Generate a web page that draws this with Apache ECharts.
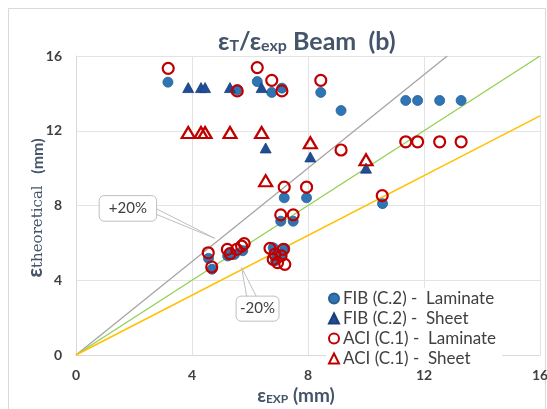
<!DOCTYPE html>
<html>
<head>
<meta charset="utf-8">
<script src="https://cdn.jsdelivr.net/npm/echarts@6/dist/echarts.min.js"></script>
<style>
html,body{margin:0;padding:0;background:#fff;overflow:hidden;width:547px;height:409px;}
#c{width:547px;height:409px;position:absolute;left:0;top:0;}
</style>
</head>
<body>
<div id="c"></div>
<script>
// ---- data ----
var fibLamX = [3.17,5.56,6.25,6.75,7.10,8.44,9.14,11.37,11.78,12.54,13.28,10.57,7.18,7.95,7.06,7.49,4.57,4.69,5.23,5.46,5.75,5.35,6.80,6.92,7.20,7.10,6.88];
var fibLamY = [14.60,14.20,14.63,14.05,14.28,14.05,13.08,13.62,13.62,13.62,13.62,8.10,8.41,8.41,7.16,7.16,5.17,4.59,5.30,5.38,5.58,5.45,5.74,5.30,5.70,5.40,5.05];
var fibShX = [3.87,4.31,4.45,5.31,6.40,6.54,8.08,10.00];
var fibShY = [14.31,14.31,14.31,14.31,14.31,11.08,10.60,10.00];
var aciLamX = [3.18,5.56,6.25,6.75,7.10,8.44,9.14,11.37,11.78,12.54,13.28,10.56,7.18,7.95,7.06,7.49,4.56,4.68,5.22,5.31,5.54,5.71,5.80,6.69,6.86,6.80,7.15,7.07,7.20,6.95];
var aciLamY = [15.34,14.13,15.38,14.70,14.13,14.70,10.97,11.41,11.41,11.41,11.41,8.53,8.98,8.98,7.50,7.50,5.47,4.71,5.65,5.42,5.65,5.83,5.96,5.71,5.39,5.12,5.65,5.30,4.85,4.94];
var aciShX = [3.87,4.31,4.45,5.31,6.40,6.54,8.08,10.00];
var aciShY = [11.91,11.91,11.91,11.91,11.91,9.33,11.36,10.45];
var axisTicks = [0,4,8,12,16];
var refSlopes = {plus20:1.25, equal:1.0, minus20:0.8};
var seriesNames = ['FIB (C.2) -  Laminate','FIB (C.2) -  Sheet','ACI (C.1) -  Laminate','ACI (C.1) -  Sheet'];
var legendIcons = ['circle','triangle','circle','triangle'];
// annotation anchors (data coords)
var plusBox = {x0:0.80, y0:8.53, x1:2.78, y1:7.16, tipX:4.79, tipY:6.24, text:'+20%'};
var minusBox = {x0:5.52, y0:3.15, x1:7.00, y1:1.81, tipX:5.71, tipY:4.68, text:'-20%'};

function zip(xs, ys){ return xs.map(function(v,i){return [v, ys[i]];}); }
function refLine(k){ var xm = Math.min(16, 16/k); return [[0,0],[xm, xm*k]]; }

var FONT = 'Lato, "Open Sans", "Liberation Sans", sans-serif';
var NAVY = '#44546a';
var chart = echarts.init(document.getElementById('c'), null, {width:547, height:409});
var option = {
  animation:false,
  backgroundColor:'#fff',
  title:{
    text:'{b|ε}{s|T}{b|/ε}{s|exp}{b| Beam  (b)}',
    left:213, top:17,
    textStyle:{
      rich:{
        b:{fontFamily:FONT,fontWeight:'bold',fontSize:25,color:NAVY,lineHeight:32,verticalAlign:'bottom'},
        s:{fontFamily:FONT,fontWeight:'bold',fontSize:16,color:NAVY,lineHeight:16,padding:[16,0,0,0],verticalAlign:'bottom'}
      }
    }
  },
  grid:{left:76, right:7, top:56, bottom:54, containLabel:false, outerBoundsMode:'none'},
  xAxis:{
    type:'value', min:0, max:16, interval:4,
    axisLine:{show:true,lineStyle:{color:'#d9d9d9'}},
    axisTick:{show:false},
    axisLabel:{fontFamily:FONT,fontWeight:'bold',fontSize:14,color:'#404040',margin:13},
    splitLine:{show:true,lineStyle:{color:'#e3e3e3'}}
  },
  yAxis:{
    type:'value', min:0, max:16, interval:4,
    axisLine:{show:true,lineStyle:{color:'#d9d9d9'}},
    axisTick:{show:false},
    axisLabel:{fontFamily:FONT,fontWeight:'bold',fontSize:14,color:'#404040',margin:14},
    splitLine:{show:true,lineStyle:{color:'#e3e3e3'}}
  },
  legend:{
    data:seriesNames.map(function(n,i){return {name:n, icon:legendIcons[i]};}),
    orient:'vertical', left:326, top:288,
    itemWidth:10, itemHeight:10, itemGap:3,
    backgroundColor:'#fff', padding:[2,6,2,2],
    textStyle:{fontFamily:FONT,fontSize:17,color:'#404040',padding:[0,0,0,-1]}
  },
  series:[
    {type:'line', name:'p20', data:refLine(refSlopes.plus20), symbol:'none', lineStyle:{color:'#a5a5a5',width:1.3}, z:1, silent:true},
    {type:'line', name:'eq', data:refLine(refSlopes.equal), symbol:'none', lineStyle:{color:'#92d050',width:1.3}, z:1, silent:true},
    {type:'line', name:'m20', data:refLine(refSlopes.minus20), symbol:'none', lineStyle:{color:'#ffc000',width:1.5}, z:1, silent:true},
    {type:'scatter', name:seriesNames[0], data:zip(fibLamX,fibLamY), symbol:'circle', symbolSize:10,
     itemStyle:{color:'#2e75b6',borderColor:'#2a5e8f',borderWidth:0.8,opacity:1}, z:3},
    {type:'scatter', name:seriesNames[1], data:zip(fibShX,fibShY), symbol:'triangle', symbolSize:[11,10],
     itemStyle:{color:'#1f4e96',borderColor:'#1a3f78',borderWidth:0.8,opacity:1}, z:3},
    {type:'scatter', name:seriesNames[2], data:zip(aciLamX,aciLamY), symbol:'circle', symbolSize:11,
     itemStyle:{color:'rgba(255,255,255,0)',borderColor:'#c00000',borderWidth:2.2,opacity:1}, z:4},
    {type:'scatter', name:seriesNames[3], data:zip(aciShX,aciShY), symbol:'triangle', symbolSize:[13,11],
     itemStyle:{color:'rgba(255,255,255,0)',borderColor:'#c00000',borderWidth:2.2,opacity:1}, z:4}
  ]
};
chart.setOption(option);

function px(x,y){ return chart.convertToPixel({gridIndex:0},[x,y]); }
function callout(b, baseSide){
  var tl = px(b.x0,b.y0), br = px(b.x1,b.y1), tip = px(b.tipX,b.tipY);
  var w = br[0]-tl[0], h = br[1]-tl[1];
  var base;
  if(baseSide==='right'){ base=[[br[0]-1, tl[1]+h*0.5],[br[0]-1, tl[1]+h*0.72]]; }
  else { base=[[tl[0]+w*0.25, tl[1]+1],[tl[0]+w*0.48, tl[1]+1]]; }
  return [
    {type:'polygon', shape:{points:[base[0],tip,base[1]]}, style:{fill:'#fff',stroke:'#bfbfbf',lineWidth:1}, z:10},
    {type:'rect', shape:{x:tl[0],y:tl[1],width:w,height:h,r:5}, style:{fill:'#fff',stroke:'#bfbfbf',lineWidth:1}, z:11},
    {type:'text', x:tl[0]+w/2, y:tl[1]+h/2, style:{text:b.text,fill:'#404040',font:'15px '+FONT,textAlign:'center',textVerticalAlign:'middle'}, z:12}
  ];
}
var g = [{type:'rect', shape:{x:8.5,y:8.5,width:537,height:420}, style:{fill:'none',stroke:'#d9d9d9',lineWidth:1}, z:0, silent:true}];
g = g.concat(callout(plusBox,'right')).concat(callout(minusBox,'top'));
// axis names
g.push({type:'text', x:296, y:393, z:5, style:{
  text:'{b|ε}{s|EXP}{b| (mm)}', align:'center', verticalAlign:'middle',
  rich:{
    b:{fontFamily:FONT,fontWeight:'bold',fontSize:19,fill:NAVY,lineHeight:24,verticalAlign:'bottom'},
    s:{fontFamily:FONT,fontWeight:'bold',fontSize:12,fill:NAVY,lineHeight:12,padding:[12,0,0,0],verticalAlign:'bottom'}
  }}});
g.push({type:'text', x:32, y:208, rotation:Math.PI/2, z:5, style:{
  text:'{b|ε}{s|theoretical}{m|   (mm)}', align:'center', verticalAlign:'middle',
  rich:{
    b:{fontFamily:FONT,fontWeight:'bold',fontSize:21,fill:NAVY,lineHeight:28,verticalAlign:'bottom'},
    s:{fontFamily:'"DejaVu Serif","Liberation Serif",serif',fontSize:15,fill:NAVY,lineHeight:15,padding:[13,0,0,0],verticalAlign:'bottom'},
    m:{fontFamily:FONT,fontWeight:'bold',fontSize:16,fill:NAVY,lineHeight:28,verticalAlign:'bottom'}
  }}});
chart.setOption({graphic:g});
</script>
</body>
</html>
